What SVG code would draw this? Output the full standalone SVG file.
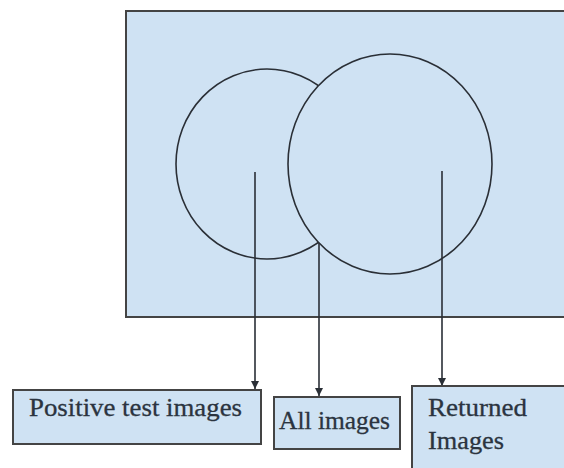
<svg xmlns="http://www.w3.org/2000/svg" width="564" height="468" viewBox="0 0 564 468">
<style>
.box{fill:#cfe2f3;stroke:#444;stroke-width:2}
.circ{fill:none;stroke:#2a2f36;stroke-width:1.6}
.circf{fill:#cfe2f3;stroke:#2a2f36;stroke-width:1.6}
.ln{stroke:#2a2f36;stroke-width:1.6;fill:none}
.t{font-family:"Liberation Serif",serif;font-size:25px;fill:#2b3440;stroke:#2b3440;stroke-width:0.3}
</style>
<defs>
<marker id="ah" viewBox="0 0 10 10" refX="10" refY="5" markerWidth="5" markerHeight="5" orient="auto" markerUnits="strokeWidth">
<path d="M0,0 L10,5 L0,10 z" fill="#2a2f36"/>
</marker>
</defs>
<g id="universe">
<rect class="box" x="126" y="11" width="440" height="306"/>
</g>
<g id="positive-circle">
<ellipse class="circ" cx="267" cy="164" rx="91" ry="95"/>
</g>
<g id="returned-circle">
<ellipse class="circf" cx="390" cy="164" rx="102" ry="110"/>
</g>
<g id="connectors">
<line class="ln" x1="255" y1="172" x2="255" y2="389" marker-end="url(#ah)"/>
<line class="ln" x1="319" y1="243" x2="319" y2="396" marker-end="url(#ah)"/>
<line class="ln" x1="442" y1="171" x2="442" y2="386" marker-end="url(#ah)"/>
</g>
<g id="positive-label">
<rect class="box" x="13" y="390" width="248" height="54"/>
<text class="t" x="29" y="416" textLength="213" lengthAdjust="spacingAndGlyphs">Positive test images</text>
</g>
<g id="all-label">
<rect class="box" x="274" y="397" width="126" height="52"/>
<text class="t" x="279" y="429" textLength="111" lengthAdjust="spacingAndGlyphs">All images</text>
</g>
<g id="returned-label">
<rect class="box" x="412" y="386" width="160" height="90"/>
<text class="t" x="428" y="416" textLength="99" lengthAdjust="spacingAndGlyphs">Returned</text>
<text class="t" x="428" y="449" textLength="76" lengthAdjust="spacingAndGlyphs">Images</text>
</g>
</svg>
